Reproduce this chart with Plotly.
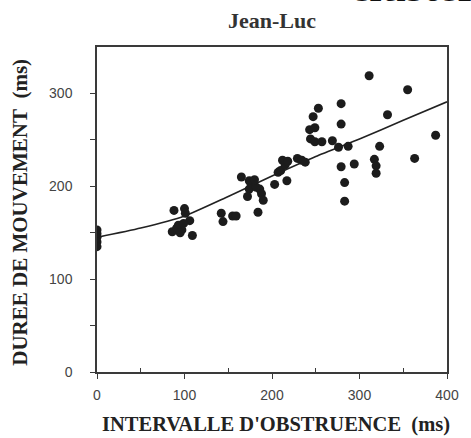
import plotly.graph_objects as go

# Data
obstruction_ms = [
    0, 0, 0, 0, 0,
    88, 100, 101, 106, 93, 86, 97, 109, 91, 99, 95,
    142, 144, 155, 159,
    165, 174, 176, 174, 172, 186, 188, 190, 184, 182, 180,
    203, 207, 210, 217, 212, 215, 218, 229, 234, 238,
    253, 247, 243, 249, 244, 249, 257, 269, 276, 287,
    279, 279, 279, 294, 283, 283,
    311, 323, 317, 319, 319, 332,
    355, 363, 387,
]
duration_ms = [
    153, 149, 145, 140, 135,
    174, 176, 171, 163, 158, 151, 153, 147, 155, 160, 150,
    171, 162, 168, 168,
    210, 206, 203, 197, 189, 197, 192, 185, 172, 199, 207,
    202, 215, 217, 206, 228, 223, 227, 230, 228, 226,
    284, 275, 261, 263, 251, 248, 248, 249, 242, 243,
    289, 267, 221, 224, 204, 184,
    319, 243, 229, 222, 214, 277,
    304, 230, 255,
]
fit_x = [0, 50, 100, 150, 200, 250, 300, 350, 400]
fit_y = [145, 155, 168, 189, 211, 232, 251, 271, 291]

x_ticks = [0, 100, 200, 300, 400]
x_minor = [50, 150, 250, 350]
y_ticks = [0, 100, 200, 300]
y_minor = [50, 150, 250]

title_text = "Jean-Luc"
x_title = "INTERVALLE D'OBSTRUENCE&nbsp;&nbsp;(ms)"
y_title = "DUREE DE MOUVEMENT&nbsp;&nbsp;(ms)"

ink = "#222222"
serif = "Liberation Serif, Times New Roman, serif"
sans = "Liberation Sans, Arial, sans-serif"

fig = go.Figure()
fig.add_trace(go.Scatter(
    x=fit_x, y=fit_y, mode="lines",
    line=dict(color=ink, width=1.6, shape="spline", smoothing=0.6),
    hoverinfo="skip", showlegend=False,
))
fig.add_trace(go.Scatter(
    x=obstruction_ms, y=duration_ms, mode="markers",
    marker=dict(color="#1c1c1c", size=9, line=dict(width=0)),
    showlegend=False,
))

axis_common = dict(
    showline=True, linecolor="#3a3a3a", linewidth=1.5, mirror=True,
    showgrid=False, zeroline=False, ticks="outside", ticklen=5,
    tickcolor="#3a3a3a", tickwidth=1.3,
    tickfont=dict(family=sans, size=14, color="#444444"),
)

fig.update_layout(
    width=471, height=438,
    margin=dict(l=97, r=19, t=47, b=66),
    paper_bgcolor="white", plot_bgcolor="white",
    xaxis=dict(range=[0, 400], tickvals=x_ticks,
               minor=dict(tickvals=x_minor, ticks="inside", ticklen=4,
                          tickcolor="#3a3a3a", tickwidth=1.2),
               ticklabelstandoff=4, **axis_common),
    yaxis=dict(range=[0, 350], tickvals=y_ticks,
               minor=dict(tickvals=y_minor, ticks="outside", ticklen=5,
                          tickcolor="#3a3a3a", tickwidth=1.2),
               ticklabelstandoff=15, **axis_common),
    annotations=[
        dict(text="<b>" + title_text + "</b>", xref="paper", yref="paper",
             x=0.5, y=1.0, yshift=27, xanchor="center", yanchor="middle",
             showarrow=False, font=dict(family=serif, size=22, color="#333333")),
        dict(text="<b>" + x_title + "</b>", xref="paper", yref="paper",
             x=0.51, y=0, yshift=-52, xanchor="center", yanchor="middle",
             showarrow=False, font=dict(family=serif, size=20.5, color="#222222")),
        dict(text="<b>" + y_title + "</b>", xref="paper", yref="paper",
             x=0, xshift=-77, y=0.49, xanchor="center", yanchor="middle",
             textangle=-90, showarrow=False,
             font=dict(family=serif, size=21, color="#222222")),
        dict(text="<b>cluster</b>", xref="paper", yref="paper",
             x=0, xshift=251, y=1.0, yshift=34, xanchor="left", yanchor="bottom",
             showarrow=False, font=dict(family=serif, size=44, color="#111111")),
    ],
)

fig.write_html("out.html", config={"displayModeBar": False},
               post_script="document.body.style.margin='0';")
